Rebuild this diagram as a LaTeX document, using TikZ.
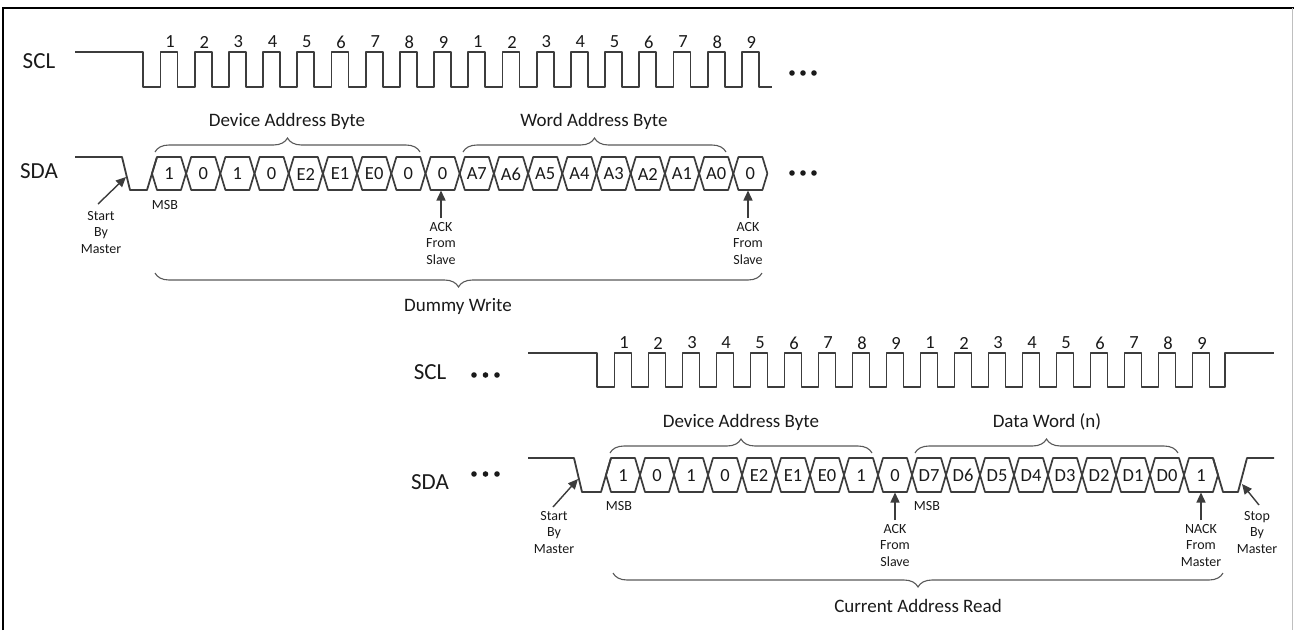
\documentclass[tikz,border=0pt]{standalone}
\usepackage{fontspec}
\setmainfont{Carlito}
\usetikzlibrary{decorations.pathreplacing,arrows.meta}
\definecolor{wavec}{HTML}{3C3C3C}
\definecolor{txt}{HTML}{1A1A1A}
\tikzset{
  wave/.style={draw=wavec, line width=1.8pt, line join=round},
  cellbox/.style={draw=wavec, line width=1.7pt, line join=round},
  bit/.style={font=\fontsize{18.5}{20}\selectfont, text=txt, inner sep=0pt},
  clk/.style={font=\fontsize{18.5}{20}\selectfont, text=txt, inner sep=0pt},
  sig/.style={font=\fontsize{23}{26}\selectfont, text=txt, inner sep=0pt},
  note/.style={font=\fontsize{14}{16.5}\selectfont, text=txt, align=center, inner sep=0pt, anchor=north},
  msb/.style={font=\fontsize{14}{16}\selectfont, text=txt, inner sep=0pt},
  title/.style={font=\fontsize{19}{22}\selectfont, text=txt, inner sep=0pt, anchor=base},
  bracebr/.style={draw=wavec!85, line width=1.1pt, decorate, decoration={brace, amplitude=14pt}},
  bracebot/.style={draw=wavec!85, line width=1.1pt, decorate, decoration={brace, amplitude=14pt, mirror}},
  ptr/.style={draw=wavec, line width=1.4pt, -{Triangle[length=10pt,width=9pt]}},
  dotfill/.style={fill=txt},
}
\begin{document}
\begin{tikzpicture}[x=1pt,y=-1pt]
\useasboundingbox (0,0) rectangle (1294,630);
% frame
\draw[black, line width=1.5pt] (3,630) -- (3,8) -- (1294,8);
\draw[black!25, line width=0.8pt] (1292.5,8) -- (1292.5,630);

% ================= TOP: Dummy write =================
\node[sig] (scl1) at (39,61) {SCL};
\node[sig] (sda1) at (39,171) {SDA};

% SCL top
\draw[wave] (75,52) -- (143,52) -- (143,87)
  \foreach \k in {0,...,17} { -- ({169+34.2*\k-8.5},87) -- ({169+34.2*\k-8.5},52) -- ({169+34.2*\k+8.5},52) -- ({169+34.2*\k+8.5},87) }
  -- (772,87);
\foreach \k in {0,...,17} {
  \pgfmathtruncatemacro\n{mod(\k,9)+1}
  \node[clk] (tc\k) at ({170+34.2*\k},42) {\n};
}
\fill[dotfill] (792,73) circle [radius=2.8pt] (803,73) circle [radius=2.8pt] (814,73) circle [radius=2.8pt];

% SDA top
\draw[wave] (75,157) -- (122,157) -- (130,190) -- (147,190) -- (157,157);
\foreach \t [count=\i from 0] in {1,0,1,0,E2,E1,E0,0,0,A7,A6,A5,A4,A3,A2,A1,A0,0} {
  \pgfmathsetmacro\c{169+34.2*\i}
  \draw[cellbox] (\c-17,173.5) -- (\c-12,157) -- (\c+12,157) -- (\c+17,173.5) -- (\c+12,190) -- (\c-12,190) -- cycle;
  \node[bit] (tb\i) at (\c,174) {\t};
}
\fill[dotfill] (792,173) circle [radius=2.8pt] (803,173) circle [radius=2.8pt] (814,173) circle [radius=2.8pt];

\node[msb] (msb1) at (165,205) {MSB};

% braces top
\coordinate (dab1l) at (155,152);
\coordinate (dab1r) at (420,152);
\draw[bracebr] (dab1l) -- (dab1r);
\node[title] (dab1) at (287,126) {Device Address Byte};
\coordinate (wab1l) at (463,152);
\coordinate (wab1r) at (726,152);
\draw[bracebr] (wab1l) -- (wab1r);
\node[title] (wab1) at (594,126) {Word Address Byte};

% annotations top
\node[note] (st1) at (101,211) {Start\\By\\Master};
\coordinate (st1a) at (98,204);
\coordinate (st1b) at (126,177);
\draw[ptr] (st1a) -- (st1b);

\node[note] (ack1) at (441,222) {ACK\\From\\Slave};
\coordinate (ack1a) at (441,218);
\coordinate (ack1b) at (441,190.5);
\draw[ptr] (ack1a) -- (ack1b);

\node[note] (ack2) at (748,222) {ACK\\From\\Slave};
\coordinate (ack2a) at (748,218);
\coordinate (ack2b) at (748,190.5);
\draw[ptr] (ack2a) -- (ack2b);

\coordinate (dw1l) at (155,273);
\coordinate (dw1r) at (762,273);
\draw[bracebot] (dw1l) -- (dw1r);
\node[title] (dw1) at (458,311) {Dummy Write};

% ================= BOTTOM: Current address read =================
\node[sig] (scl2) at (430,372) {SCL};
\node[sig] (sda2) at (430,482) {SDA};
\fill[dotfill] (474,375) circle [radius=2.8pt] (485.5,375) circle [radius=2.8pt] (497,375) circle [radius=2.8pt];
\fill[dotfill] (474,474) circle [radius=2.8pt] (485.5,474) circle [radius=2.8pt] (497,474) circle [radius=2.8pt];

% SCL bottom
\draw[wave] (528,353) -- (597,353) -- (597,387)
  \foreach \k in {0,...,17} { -- ({623+34*\k-8.5},387) -- ({623+34*\k-8.5},353) -- ({623+34*\k+8.5},353) -- ({623+34*\k+8.5},387) }
  -- (1225,387) -- (1225,353) -- (1274,353);
\foreach \k in {0,...,17} {
  \pgfmathtruncatemacro\n{mod(\k,9)+1}
  \node[clk] (bc\k) at ({624+34*\k},343) {\n};
}

% SDA bottom
\draw[wave] (528,458) -- (574,458) -- (582,492) -- (601,492) -- (611,458);
\foreach \t [count=\i from 0] in {1,0,1,0,E2,E1,E0,1,0,D7,D6,D5,D4,D3,D2,D1,D0,1} {
  \pgfmathsetmacro\c{623+34*\i}
  \draw[cellbox] (\c-17,475) -- (\c-12,458) -- (\c+12,458) -- (\c+17,475) -- (\c+12,492) -- (\c-12,492) -- cycle;
  \node[bit] (bb\i) at (\c,475.5) {\t};
}
\draw[wave] (1213,458) -- (1223,492) -- (1238,492) -- (1247,458) -- (1274,458);

\node[msb] (msb2) at (619,505.5) {MSB};
\node[msb] (msb3) at (927,505.5) {MSB};

% braces bottom
\coordinate (dab2l) at (610,453);
\coordinate (dab2r) at (872,453);
\draw[bracebr] (dab2l) -- (dab2r);
\node[title] (dab2) at (741,427) {Device Address Byte};
\coordinate (dwd2l) at (915,453);
\coordinate (dwd2r) at (1178,453);
\draw[bracebr] (dwd2l) -- (dwd2r);
\node[title] (dwd2) at (1047,427) {Data Word (n)};

% annotations bottom
\node[note] (st2) at (554,511) {Start\\By\\Master};
\coordinate (st2a) at (553,507);
\coordinate (st2b) at (578,479);
\draw[ptr] (st2a) -- (st2b);

\node[note] (ack3) at (895,524) {ACK\\From\\Slave};
\coordinate (ack3a) at (895,520);
\coordinate (ack3b) at (895,492.5);
\draw[ptr] (ack3a) -- (ack3b);

\node[note] (nack) at (1201,524) {NACK\\From\\Master};
\coordinate (nacka) at (1201,520);
\coordinate (nackb) at (1201,492.5);
\draw[ptr] (nacka) -- (nackb);

\node[note] (sp2) at (1257,511) {Stop\\By\\Master};
\coordinate (sp2a) at (1259,505);
\coordinate (sp2b) at (1242,484);
\draw[ptr] (sp2a) -- (sp2b);

\coordinate (car2l) at (613,573);
\coordinate (car2r) at (1223,573);
\draw[bracebot] (car2l) -- (car2r);
\node[title] (car) at (918,612) {Current Address Read};
\end{tikzpicture}
\end{document}
